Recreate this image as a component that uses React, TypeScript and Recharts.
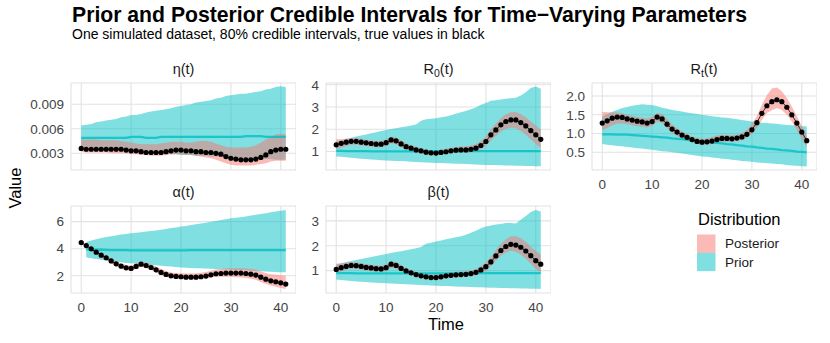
import { ComposedChart, Area, Line, XAxis, YAxis, CartesianGrid } from 'recharts'

const TIME = [0, 1, 2, 3, 4, 5, 6, 7, 8, 9, 10, 11, 12, 13, 14, 15, 16, 17, 18, 19, 20, 21, 22, 23, 24, 25, 26, 27, 28, 29, 30, 31, 32, 33, 34, 35, 36, 37, 38, 39, 40, 41]
const X_TICKS = [0, 10, 20, 30, 40]

// eta(t)
const ETA_TRUE = [0.0036, 0.0035, 0.0035, 0.0035, 0.0035, 0.0035, 0.0035, 0.0035, 0.0035, 0.0034, 0.0033, 0.0033, 0.0032, 0.0031, 0.0031, 0.0031, 0.0031, 0.0032, 0.0033, 0.0034, 0.0034, 0.0033, 0.0033, 0.0032, 0.0032, 0.0031, 0.0031, 0.0030, 0.0029, 0.0026, 0.0024, 0.0023, 0.0022, 0.0022, 0.0022, 0.0023, 0.0025, 0.0028, 0.0032, 0.0034, 0.0035, 0.0035]
const ETA_POST_LO = [0.0032, 0.0031, 0.0031, 0.0031, 0.0031, 0.0031, 0.0030, 0.0030, 0.0030, 0.0030, 0.0029, 0.0029, 0.0028, 0.0028, 0.0027, 0.0027, 0.0027, 0.0028, 0.0029, 0.0029, 0.0029, 0.0028, 0.0028, 0.0027, 0.0026, 0.0025, 0.0024, 0.0022, 0.0020, 0.0018, 0.0016, 0.0015, 0.0015, 0.0015, 0.0015, 0.0016, 0.0017, 0.0018, 0.0020, 0.0021, 0.0021, 0.0021]
const ETA_POST_HI = [0.0047, 0.0047, 0.0047, 0.0047, 0.0046, 0.0046, 0.0046, 0.0046, 0.0045, 0.0044, 0.0043, 0.0042, 0.0041, 0.0041, 0.0041, 0.0041, 0.0042, 0.0043, 0.0044, 0.0044, 0.0044, 0.0043, 0.0043, 0.0044, 0.0045, 0.0045, 0.0044, 0.0042, 0.0040, 0.0038, 0.0037, 0.0037, 0.0037, 0.0037, 0.0038, 0.0040, 0.0043, 0.0047, 0.0050, 0.0053, 0.0054, 0.0053]
const ETA_PRIOR_LO = [0.0038, 0.0038, 0.0037, 0.0036, 0.0036, 0.0035, 0.0035, 0.0034, 0.0034, 0.0033, 0.0033, 0.0032, 0.0032, 0.0031, 0.0031, 0.0030, 0.0030, 0.0030, 0.0029, 0.0029, 0.0028, 0.0028, 0.0028, 0.0027, 0.0027, 0.0027, 0.0026, 0.0026, 0.0026, 0.0025, 0.0025, 0.0025, 0.0024, 0.0024, 0.0024, 0.0024, 0.0023, 0.0023, 0.0023, 0.0022, 0.0022, 0.0022]
const ETA_PRIOR_MED = [0.0049, 0.0049, 0.0049, 0.0049, 0.0049, 0.0049, 0.0049, 0.0049, 0.0049, 0.0049, 0.0050, 0.0050, 0.0050, 0.0049, 0.0049, 0.0049, 0.0050, 0.0050, 0.0050, 0.0050, 0.0050, 0.0050, 0.0050, 0.0050, 0.0050, 0.0050, 0.0050, 0.0050, 0.0050, 0.0050, 0.0050, 0.0050, 0.0050, 0.0051, 0.0051, 0.0051, 0.0051, 0.0050, 0.0050, 0.0050, 0.0050, 0.0050]
const ETA_PRIOR_HI = [0.0064, 0.0065, 0.0066, 0.0068, 0.0069, 0.0070, 0.0071, 0.0072, 0.0074, 0.0075, 0.0077, 0.0077, 0.0078, 0.0080, 0.0081, 0.0082, 0.0083, 0.0084, 0.0085, 0.0087, 0.0088, 0.0089, 0.0090, 0.0092, 0.0093, 0.0094, 0.0095, 0.0097, 0.0098, 0.0100, 0.0101, 0.0102, 0.0103, 0.0103, 0.0104, 0.0105, 0.0106, 0.0108, 0.0109, 0.0111, 0.0112, 0.0111]

// R0(t)
const R0_TRUE = [1.30, 1.37, 1.42, 1.46, 1.46, 1.42, 1.39, 1.36, 1.33, 1.33, 1.40, 1.52, 1.48, 1.34, 1.22, 1.15, 1.07, 1.03, 0.97, 0.94, 0.93, 0.96, 0.99, 1.03, 1.06, 1.07, 1.07, 1.10, 1.15, 1.27, 1.45, 1.75, 1.97, 2.20, 2.35, 2.42, 2.42, 2.30, 2.15, 1.94, 1.75, 1.55]
const R0_POST_LO = [1.10, 1.18, 1.25, 1.30, 1.31, 1.28, 1.25, 1.22, 1.19, 1.19, 1.26, 1.37, 1.33, 1.20, 1.09, 1.02, 0.95, 0.91, 0.86, 0.83, 0.82, 0.85, 0.88, 0.91, 0.94, 0.95, 0.95, 0.97, 1.01, 1.10, 1.25, 1.50, 1.70, 1.90, 2.02, 2.07, 2.05, 1.92, 1.75, 1.55, 1.35, 1.15]
const R0_POST_HI = [1.55, 1.55, 1.57, 1.60, 1.60, 1.57, 1.53, 1.50, 1.47, 1.47, 1.54, 1.66, 1.63, 1.50, 1.37, 1.28, 1.20, 1.15, 1.09, 1.06, 1.05, 1.08, 1.12, 1.16, 1.20, 1.22, 1.23, 1.27, 1.33, 1.47, 1.68, 2.00, 2.25, 2.50, 2.68, 2.77, 2.78, 2.68, 2.54, 2.35, 2.17, 1.98]
const R0_PRIOR_LO = [0.78, 0.76, 0.74, 0.72, 0.70, 0.68, 0.66, 0.64, 0.63, 0.61, 0.60, 0.59, 0.58, 0.57, 0.56, 0.54, 0.53, 0.52, 0.51, 0.50, 0.49, 0.48, 0.47, 0.46, 0.45, 0.45, 0.44, 0.43, 0.42, 0.41, 0.40, 0.40, 0.39, 0.38, 0.37, 0.37, 0.36, 0.36, 0.35, 0.35, 0.34, 0.34]
const R0_PRIOR_MED = [1.03, 1.03, 1.02, 1.02, 1.02, 1.02, 1.02, 1.01, 1.01, 1.01, 1.01, 1.01, 1.01, 1.01, 1.01, 1.01, 1.01, 1.01, 1.01, 1.01, 1.01, 1.01, 1.01, 1.01, 1.02, 1.02, 1.02, 1.02, 1.02, 1.02, 1.02, 1.02, 1.02, 1.02, 1.02, 1.02, 1.02, 1.02, 1.02, 1.02, 1.02, 1.02]
const R0_PRIOR_HI = [1.45, 1.50, 1.56, 1.62, 1.67, 1.72, 1.77, 1.82, 1.87, 1.92, 1.97, 2.01, 2.05, 2.09, 2.13, 2.17, 2.22, 2.38, 2.45, 2.47, 2.50, 2.54, 2.58, 2.63, 2.70, 2.76, 2.82, 2.90, 2.98, 3.10, 3.18, 3.28, 3.30, 3.34, 3.37, 3.40, 3.42, 3.52, 3.66, 3.86, 3.92, 3.82]

// Rt(t)
const RT_TRUE = [1.28, 1.34, 1.41, 1.44, 1.43, 1.39, 1.36, 1.33, 1.31, 1.28, 1.32, 1.44, 1.39, 1.25, 1.12, 1.04, 0.96, 0.90, 0.84, 0.79, 0.77, 0.78, 0.80, 0.84, 0.87, 0.87, 0.86, 0.88, 0.91, 0.98, 1.10, 1.29, 1.54, 1.74, 1.85, 1.90, 1.85, 1.70, 1.50, 1.28, 1.04, 0.81]
const RT_POST_LO = [1.08, 1.15, 1.22, 1.27, 1.27, 1.25, 1.22, 1.20, 1.18, 1.16, 1.20, 1.32, 1.28, 1.14, 1.02, 0.94, 0.87, 0.82, 0.77, 0.72, 0.70, 0.70, 0.72, 0.75, 0.78, 0.78, 0.78, 0.80, 0.83, 0.89, 1.00, 1.15, 1.36, 1.55, 1.62, 1.68, 1.63, 1.50, 1.32, 1.10, 0.86, 0.62]
const RT_POST_HI = [1.58, 1.57, 1.56, 1.56, 1.54, 1.50, 1.47, 1.44, 1.42, 1.40, 1.44, 1.55, 1.52, 1.38, 1.24, 1.14, 1.05, 0.98, 0.92, 0.88, 0.86, 0.87, 0.91, 0.95, 0.97, 0.96, 0.95, 0.97, 1.01, 1.10, 1.25, 1.47, 1.76, 2.02, 2.20, 2.23, 2.13, 1.95, 1.72, 1.46, 1.20, 0.95]
const RT_PRIOR_LO = [0.72, 0.70, 0.69, 0.67, 0.66, 0.64, 0.63, 0.61, 0.60, 0.58, 0.57, 0.55, 0.53, 0.52, 0.50, 0.49, 0.47, 0.45, 0.43, 0.41, 0.39, 0.38, 0.36, 0.35, 0.33, 0.32, 0.30, 0.29, 0.27, 0.26, 0.25, 0.23, 0.22, 0.21, 0.20, 0.19, 0.18, 0.16, 0.15, 0.14, 0.13, 0.12]
const RT_PRIOR_MED = [0.98, 0.98, 0.98, 0.97, 0.97, 0.97, 0.96, 0.95, 0.94, 0.93, 0.92, 0.91, 0.90, 0.89, 0.87, 0.86, 0.85, 0.83, 0.82, 0.80, 0.79, 0.78, 0.76, 0.75, 0.74, 0.72, 0.71, 0.69, 0.68, 0.66, 0.65, 0.63, 0.62, 0.60, 0.59, 0.58, 0.56, 0.55, 0.54, 0.52, 0.51, 0.50]
const RT_PRIOR_HI = [1.45, 1.52, 1.58, 1.63, 1.68, 1.71, 1.74, 1.76, 1.78, 1.77, 1.76, 1.73, 1.69, 1.66, 1.63, 1.61, 1.59, 1.56, 1.54, 1.52, 1.50, 1.48, 1.46, 1.45, 1.43, 1.42, 1.40, 1.38, 1.36, 1.34, 1.32, 1.31, 1.29, 1.28, 1.27, 1.26, 1.24, 1.23, 1.22, 1.21, 1.20, 1.19]

// alpha(t) - prior starts at t = 1
const ALPHA_TRUE = [4.45, 4.23, 3.99, 3.74, 3.52, 3.33, 3.10, 2.88, 2.71, 2.59, 2.54, 2.69, 2.86, 2.76, 2.61, 2.44, 2.25, 2.10, 2.00, 1.95, 1.93, 1.90, 1.90, 1.90, 1.93, 1.98, 2.07, 2.15, 2.17, 2.20, 2.20, 2.20, 2.20, 2.17, 2.12, 2.05, 1.90, 1.75, 1.63, 1.56, 1.48, 1.39]
const ALPHA_POST_LO = [4.43, 4.17, 3.90, 3.63, 3.40, 3.18, 2.94, 2.71, 2.54, 2.42, 2.38, 2.52, 2.68, 2.58, 2.42, 2.25, 2.06, 1.92, 1.83, 1.78, 1.76, 1.74, 1.73, 1.73, 1.76, 1.80, 1.87, 1.92, 1.92, 1.93, 1.92, 1.90, 1.88, 1.84, 1.78, 1.70, 1.55, 1.40, 1.28, 1.20, 1.10, 1.02]
const ALPHA_POST_HI = [4.47, 4.30, 4.10, 3.87, 3.67, 3.50, 3.28, 3.07, 2.90, 2.79, 2.75, 2.88, 3.05, 2.98, 2.84, 2.68, 2.50, 2.35, 2.25, 2.20, 2.18, 2.17, 2.17, 2.18, 2.22, 2.28, 2.38, 2.46, 2.50, 2.54, 2.56, 2.56, 2.56, 2.54, 2.50, 2.44, 2.32, 2.20, 2.12, 2.08, 2.04, 2.00]
const ALPHA_PRIOR_LO = [null, 3.36, 3.30, 3.24, 3.18, 3.12, 3.07, 3.03, 2.99, 2.95, 2.92, 2.89, 2.86, 2.83, 2.80, 2.77, 2.74, 2.71, 2.68, 2.65, 2.62, 2.60, 2.58, 2.56, 2.55, 2.54, 2.52, 2.50, 2.48, 2.46, 2.45, 2.43, 2.42, 2.40, 2.38, 2.36, 2.34, 2.32, 2.30, 2.28, 2.27, 2.26]
const ALPHA_PRIOR_MED = [null, 3.95, 3.94, 3.92, 3.92, 3.91, 3.90, 3.90, 3.89, 3.89, 3.88, 3.88, 3.88, 3.88, 3.88, 3.88, 3.88, 3.88, 3.88, 3.88, 3.88, 3.88, 3.89, 3.89, 3.89, 3.89, 3.89, 3.89, 3.90, 3.90, 3.90, 3.90, 3.90, 3.90, 3.90, 3.90, 3.90, 3.90, 3.90, 3.90, 3.90, 3.90]
const ALPHA_PRIOR_HI = [null, 4.50, 4.60, 4.70, 4.78, 4.86, 4.92, 4.98, 5.04, 5.09, 5.14, 5.18, 5.22, 5.26, 5.30, 5.34, 5.40, 5.46, 5.52, 5.57, 5.63, 5.68, 5.74, 5.80, 5.86, 5.92, 5.98, 6.05, 6.12, 6.18, 6.25, 6.28, 6.32, 6.37, 6.44, 6.50, 6.56, 6.62, 6.68, 6.74, 6.80, 6.85]

// beta(t)
const BETA_TRUE = [1.05, 1.12, 1.17, 1.21, 1.20, 1.17, 1.13, 1.11, 1.08, 1.07, 1.12, 1.26, 1.21, 1.09, 0.99, 0.91, 0.84, 0.79, 0.75, 0.72, 0.72, 0.75, 0.79, 0.81, 0.83, 0.84, 0.85, 0.88, 0.93, 1.03, 1.16, 1.35, 1.59, 1.81, 1.97, 2.06, 2.03, 1.94, 1.79, 1.60, 1.40, 1.26]
const BETA_POST_LO = [0.90, 0.98, 1.04, 1.08, 1.08, 1.05, 1.01, 0.99, 0.97, 0.96, 1.00, 1.13, 1.09, 0.97, 0.88, 0.81, 0.74, 0.69, 0.65, 0.62, 0.62, 0.64, 0.68, 0.70, 0.72, 0.73, 0.74, 0.76, 0.80, 0.88, 1.00, 1.18, 1.40, 1.60, 1.73, 1.80, 1.76, 1.65, 1.48, 1.28, 1.08, 0.92]
const BETA_POST_HI = [1.28, 1.30, 1.32, 1.34, 1.33, 1.30, 1.26, 1.24, 1.21, 1.20, 1.25, 1.38, 1.34, 1.22, 1.11, 1.02, 0.95, 0.90, 0.86, 0.83, 0.83, 0.86, 0.90, 0.93, 0.95, 0.96, 0.97, 1.01, 1.07, 1.18, 1.33, 1.55, 1.82, 2.07, 2.25, 2.38, 2.38, 2.30, 2.15, 1.96, 1.78, 1.66]
const BETA_PRIOR_LO = [0.64, 0.62, 0.60, 0.58, 0.56, 0.55, 0.54, 0.52, 0.51, 0.50, 0.49, 0.48, 0.47, 0.46, 0.45, 0.44, 0.43, 0.42, 0.41, 0.40, 0.39, 0.38, 0.38, 0.37, 0.36, 0.35, 0.35, 0.34, 0.33, 0.33, 0.32, 0.31, 0.31, 0.30, 0.30, 0.29, 0.29, 0.28, 0.28, 0.27, 0.27, 0.26]
const BETA_PRIOR_MED = [0.90, 0.90, 0.90, 0.90, 0.89, 0.89, 0.89, 0.89, 0.89, 0.89, 0.89, 0.89, 0.89, 0.89, 0.89, 0.89, 0.89, 0.89, 0.89, 0.89, 0.89, 0.89, 0.89, 0.89, 0.89, 0.90, 0.90, 0.90, 0.90, 0.90, 0.90, 0.90, 0.90, 0.90, 0.90, 0.90, 0.90, 0.90, 0.90, 0.90, 0.90, 0.90]
const BETA_PRIOR_HI = [1.25, 1.30, 1.35, 1.39, 1.43, 1.47, 1.51, 1.55, 1.59, 1.63, 1.67, 1.71, 1.75, 1.78, 1.82, 1.86, 1.90, 1.95, 2.08, 2.12, 2.17, 2.21, 2.26, 2.30, 2.34, 2.38, 2.44, 2.52, 2.60, 2.70, 2.78, 2.82, 2.86, 2.88, 2.92, 2.92, 2.90, 3.05, 3.20, 3.36, 3.44, 3.38]

const PRIOR_COL = '#00BFC4'
const POST_COL = '#F8766D'
const FONT = '"Liberation Sans", Arial, Helvetica, sans-serif'

type Series = {
  truth: number[]
  postLo: number[]
  postHi: number[]
  priorLo: (number | null)[]
  priorMed: (number | null)[]
  priorHi: (number | null)[]
}

function buildRows(s: Series) {
  return TIME.map((t, i) => ({
    t,
    truth: s.truth[i],
    post: [s.postLo[i], s.postHi[i]],
    prior: s.priorLo[i] == null ? null : [s.priorLo[i], s.priorHi[i]],
    priorMed: s.priorMed[i],
  }))
}

type PanelProps = {
  series: Series
  left: number
  top: number
  yWidth: number
  domain: [number, number]
  ticks: number[]
  fmt: (v: number) => string
  showX: boolean
}

const PW = 225
const PH = 87
const XH = 26
const PAD = 9 // room above/below the panel so edge tick labels are not clipped

function Panel({ series, left, top, yWidth, domain, ticks, fmt, showX }: PanelProps) {
  const rows = buildRows(series)
  const padBottom = showX ? 0 : PAD
  return (
    <div style={{ position: 'absolute', left: left - yWidth, top: top - PAD }}>
      <ComposedChart
        width={yWidth + PW}
        height={PH + PAD + padBottom + (showX ? XH : 0)}
        data={rows}
        margin={{ top: PAD, right: 0, bottom: padBottom, left: 0 }}
      >
        <CartesianGrid stroke="#E2E2E2" strokeWidth={1.1} />
        <XAxis
          type="number"
          dataKey="t"
          domain={[-2.05, 43.05]}
          ticks={X_TICKS}
          interval={0}
          allowDataOverflow
          hide={!showX}
          height={XH}
          axisLine={false}
          tickLine={false}
          tickSize={0}
          tickMargin={9}
          tick={{ fontSize: 13.5, fill: '#444', fontFamily: FONT }}
        />
        <YAxis
          type="number"
          domain={domain}
          ticks={ticks}
          interval={0}
          allowDataOverflow
          width={yWidth}
          axisLine={false}
          tickLine={false}
          tickSize={0}
          tickMargin={7}
          tickFormatter={fmt}
          tick={{ fontSize: 13.5, fill: '#444', fontFamily: FONT }}
        />
        <Area type="linear" dataKey="prior" fill={PRIOR_COL} fillOpacity={0.5} stroke="none"
          isAnimationActive={false} activeDot={false} />
        <Line type="linear" dataKey="priorMed" stroke={PRIOR_COL} strokeOpacity={0.8} strokeWidth={2.3}
          dot={false} activeDot={false} isAnimationActive={false} />
        <Area type="linear" dataKey="post" fill={POST_COL} fillOpacity={0.5} stroke="none"
          isAnimationActive={false} activeDot={false} />
        <Line type="linear" dataKey="truth" stroke="#000" strokeWidth={0.8}
          dot={{ r: 2.6, fill: '#000', stroke: 'none' }} activeDot={false} isAnimationActive={false} />
      </ComposedChart>
    </div>
  )
}

const f3 = (v: number) => v.toFixed(3)
const f1 = (v: number) => v.toFixed(1)
const f0 = (v: number) => String(v)

export default function App() {
  const strip = { fontSize: 14.5, fill: '#1A1A1A', textAnchor: 'middle' as const }
  return (
    <div style={{ position: 'absolute', left: 0, top: 0, width: 830, height: 343, background: '#fff', fontFamily: FONT }}>
      <svg width={830} height={343} style={{ position: 'absolute', left: 0, top: 0 }} fontFamily={FONT}>
        <text x={72} y={22} fontSize={21.2} fontWeight="bold" fill="#000">
          Prior and Posterior Credible Intervals for Time−Varying Parameters
        </text>
        <text x={72} y={39} fontSize={14} fill="#000">
          One simulated dataset, 80% credible intervals, true values in black
        </text>

        <text x={183.5} y={74} {...strip}>η(t)</text>
        <text x={438.5} y={74} {...strip}>
          <tspan>R</tspan><tspan dy={3} fontSize={10.5}>0</tspan><tspan dy={-3}>(t)</tspan>
        </text>
        <text x={704} y={74} {...strip}>
          <tspan>R</tspan><tspan dy={3} fontSize={10.5}>t</tspan><tspan dy={-3}>(t)</tspan>
        </text>
        <text x={183.5} y={197} {...strip}>α(t)</text>
        <text x={438.5} y={197} {...strip}>β(t)</text>

        <text x={21} y={188} fontSize={16.5} fill="#000" textAnchor="middle" transform="rotate(-90 21 188)">Value</text>
        <text x={446} y={330} fontSize={16.5} fill="#000" textAnchor="middle">Time</text>

        <text x={698} y={225} fontSize={16.5} fill="#000">Distribution</text>
        <rect x={697} y={234.5} width={18.5} height={18.3} fill={POST_COL} fillOpacity={0.5} />
        <rect x={697} y={252.8} width={18.5} height={18.3} fill={PRIOR_COL} fillOpacity={0.5} />
        <text x={725} y={248.3} fontSize={13.5} fill="#1A1A1A">Posterior</text>
        <text x={725} y={266.7} fontSize={13.5} fill="#1A1A1A">Prior</text>
      </svg>

      <Panel
        series={{ truth: ETA_TRUE, postLo: ETA_POST_LO, postHi: ETA_POST_HI, priorLo: ETA_PRIOR_LO, priorMed: ETA_PRIOR_MED, priorHi: ETA_PRIOR_HI }}
        left={71} top={83} yWidth={60} domain={[0.00096, 0.0116]} ticks={[0.003, 0.006, 0.009]} fmt={f3} showX={false}
      />
      <Panel
        series={{ truth: R0_TRUE, postLo: R0_POST_LO, postHi: R0_POST_HI, priorLo: R0_PRIOR_LO, priorMed: R0_PRIOR_MED, priorHi: R0_PRIOR_HI }}
        left={326} top={83} yWidth={30} domain={[0.17, 4.08]} ticks={[1, 2, 3, 4]} fmt={f0} showX={false}
      />
      <Panel
        series={{ truth: RT_TRUE, postLo: RT_POST_LO, postHi: RT_POST_HI, priorLo: RT_PRIOR_LO, priorMed: RT_PRIOR_MED, priorHi: RT_PRIOR_HI }}
        left={592} top={83} yWidth={36} domain={[0.028, 2.347]} ticks={[0.5, 1, 1.5, 2]} fmt={f1} showX={true}
      />
      <Panel
        series={{ truth: ALPHA_TRUE, postLo: ALPHA_POST_LO, postHi: ALPHA_POST_HI, priorLo: ALPHA_PRIOR_LO, priorMed: ALPHA_PRIOR_MED, priorHi: ALPHA_PRIOR_HI }}
        left={71} top={206} yWidth={60} domain={[0.73, 7.15]} ticks={[2, 4, 6]} fmt={f0} showX={true}
      />
      <Panel
        series={{ truth: BETA_TRUE, postLo: BETA_POST_LO, postHi: BETA_POST_HI, priorLo: BETA_PRIOR_LO, priorMed: BETA_PRIOR_MED, priorHi: BETA_PRIOR_HI }}
        left={326} top={206} yWidth={30} domain={[0.10, 3.6]} ticks={[1, 2, 3]} fmt={f0} showX={true}
      />
    </div>
  )
}
